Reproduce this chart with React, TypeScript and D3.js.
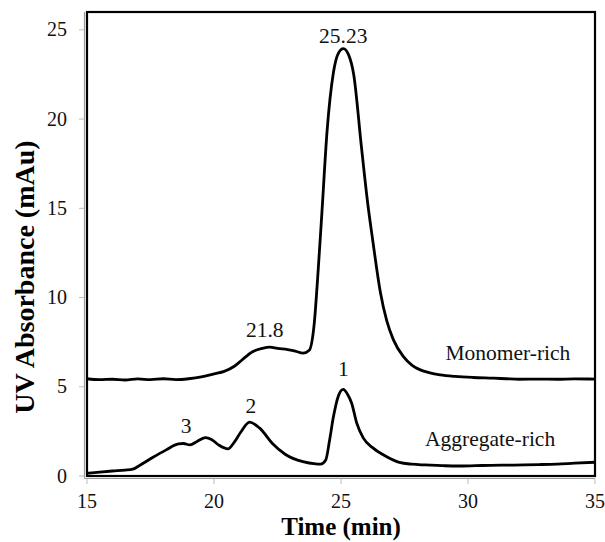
import React from "react";
import * as d3 from "d3";

const xTicks = [15, 20, 25, 30, 35];
const yTicks = [0, 5, 10, 15, 20, 25];

const monoTime = [15, 15.5, 16, 16.5, 17, 17.5, 18, 18.5, 19, 19.5, 20, 20.4, 20.8, 21.1, 21.5, 21.9, 22.2, 22.5, 22.9, 23.2, 23.5, 23.75, 23.95, 24.1, 24.25, 24.45, 24.7, 24.9, 25.09, 25.3, 25.5, 25.8, 26.05, 26.25, 26.55, 26.8, 27.06, 27.45, 27.8, 28.1, 28.5, 28.9, 29.5, 30.2, 31, 31.5, 32, 32.8, 33.5, 34.2, 35];
const monoValue = [5.45, 5.4, 5.42, 5.38, 5.44, 5.4, 5.45, 5.4, 5.45, 5.55, 5.72, 5.86, 6.15, 6.5, 6.95, 7.15, 7.22, 7.15, 7.08, 7.0, 6.88, 7.05, 8.6, 11.5, 14.8, 19.3, 22.6, 23.7, 23.95, 23.6, 22.5, 18.5, 15.3, 13.2, 10.3, 8.7, 7.64, 6.7, 6.2, 5.96, 5.78, 5.67, 5.58, 5.52, 5.48, 5.45, 5.42, 5.43, 5.42, 5.44, 5.43];

const aggTime = [15, 15.5, 16, 16.5, 16.8, 17.1, 17.6, 18.1, 18.6, 18.8, 19.05, 19.35, 19.67, 19.9, 20.2, 20.55, 20.8, 21.05, 21.4, 21.8, 22.3, 22.8, 23.5, 24.0, 24.2, 24.4, 24.55, 24.7, 24.9, 25.09, 25.25, 25.42, 25.62, 25.88, 26.27, 26.8, 27.3, 27.8, 28.3, 29, 29.6, 30.3, 30.9, 31.5, 32.2, 32.8, 33.5, 34.2, 35];
const aggValue = [0.15, 0.22, 0.28, 0.33, 0.38, 0.62, 1.05, 1.45, 1.8, 1.82, 1.74, 1.95, 2.15, 2.05, 1.72, 1.52, 1.9, 2.45, 3.02, 2.68, 1.82, 1.22, 0.8, 0.68, 0.67, 0.9, 2.0, 3.3, 4.5, 4.85, 4.6, 4.08, 2.96, 2.12, 1.56, 1.08, 0.76, 0.66, 0.62, 0.58, 0.56, 0.58, 0.6, 0.61, 0.62, 0.64, 0.67, 0.72, 0.77];

const peakLabels = ["25.23", "21.8", "1", "2", "3"];
const peakLabelTime = [25.09, 22.0, 25.09, 21.45, 18.9];
const peakLabelValue = [24.25, 7.77, 5.6, 3.55, 2.4];

const seriesNames = ["Monomer-rich", "Aggregate-rich"];
const seriesNameTime = [31.57, 30.87];
const seriesNameValue = [6.5, 1.68];

const W = 605;
const H = 542;
const left = 87;
const right = 595;
const top = 12;
const bottom = 476;
const FONT = "Liberation Serif";

export default function App() {
  const x = d3.scaleLinear().domain([15, 35]).range([left, right]);
  const y = d3.scaleLinear().domain([0, 26]).range([bottom, top]);
  const line = d3
    .line<[number, number]>()
    .x((d) => x(d[0]))
    .y((d) => y(d[1]))
    .curve(d3.curveMonotoneX);
  const mono = monoTime.map((t, i) => [t, monoValue[i]] as [number, number]);
  const agg = aggTime.map((t, i) => [t, aggValue[i]] as [number, number]);

  return (
    <svg width={W} height={H} style={{ position: "absolute", left: 0, top: 0 }}>
      <rect x={0} y={0} width={W} height={H} fill="#fff" />
      <line x1={left - 2.5} x2={left - 2.5} y1={top} y2={bottom + 2.5} stroke="#999" strokeWidth={1.2} />
      <line x1={left - 2.5} x2={right} y1={bottom + 2.5} y2={bottom + 2.5} stroke="#999" strokeWidth={1.2} />
      {xTicks.map((t) => (
        <g key={"x" + t}>
          <line x1={x(t)} x2={x(t)} y1={bottom + 2.5} y2={bottom + 8} stroke="#bbb" strokeWidth={1} />
          <text fontFamily={FONT} x={x(t)} y={bottom + 31.5} textAnchor="middle" fontSize={20} fill="#111">
            {String(t)}
          </text>
        </g>
      ))}
      {yTicks.map((t) => (
        <g key={"y" + t}>
          <line x1={left - 8} x2={left - 2.5} y1={y(t)} y2={y(t)} stroke="#bbb" strokeWidth={1} />
          <text fontFamily={FONT} x={67} y={y(t) + 6.5} textAnchor="end" fontSize={20} fill="#111">
            {String(t)}
          </text>
        </g>
      ))}
      <rect
        x={left}
        y={top}
        width={right - left}
        height={bottom - top}
        fill="none"
        stroke="#000"
        strokeWidth={2.2}
      />
      <path d={line(mono) || ""} fill="none" stroke="#000" strokeWidth={2.8} strokeLinejoin="round" />
      <path d={line(agg) || ""} fill="none" stroke="#000" strokeWidth={2.8} strokeLinejoin="round" />
      {peakLabels.map((l, i) => (
        <text
          key={"p" + i}
          fontFamily={FONT}
          x={x(peakLabelTime[i])}
          y={y(peakLabelValue[i])}
          textAnchor="middle"
          fontSize={21.5}
          fill="#111"
        >
          {l}
        </text>
      ))}
      {seriesNames.map((l, i) => (
        <text
          key={"s" + i}
          fontFamily={FONT}
          x={x(seriesNameTime[i])}
          y={y(seriesNameValue[i])}
          textAnchor="middle"
          fontSize={21.5}
          fill="#111"
        >
          {l}
        </text>
      ))}
      <text fontFamily={FONT} x={341} y={535} textAnchor="middle" fontSize={25} fontWeight={700} fill="#000">
        Time (min)
      </text>
      <text
        fontFamily={FONT}
        transform={`translate(34, 277) rotate(-90)`}
        textAnchor="middle"
        fontSize={28}
        fontWeight={700}
        fill="#000"
      >
        UV Absorbance (mAu)
      </text>
    </svg>
  );
}
